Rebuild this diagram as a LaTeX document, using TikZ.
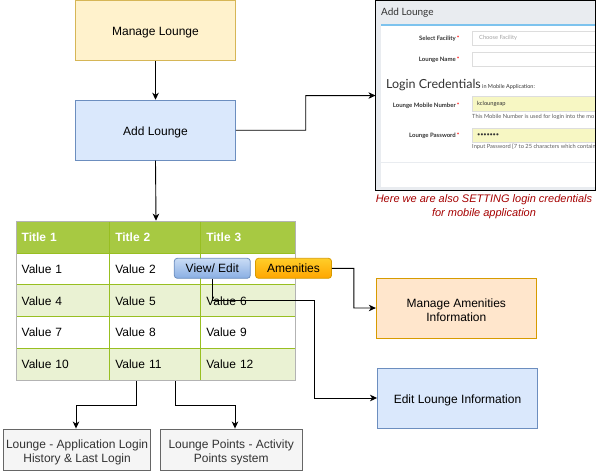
\documentclass[tikz,border=0pt]{standalone}
\usepackage{fontspec}
\setmainfont{Liberation Sans}
\newfontfamily\ui{Lato}
\usetikzlibrary{arrows.meta,calc}
\definecolor{yfill}{HTML}{FFF2CC}
\definecolor{ystroke}{HTML}{D6B656}
\definecolor{bfill}{HTML}{DAE8FC}
\definecolor{bstroke}{HTML}{6C8EBF}
\definecolor{ofill}{HTML}{FFE6CC}
\definecolor{ostroke}{HTML}{D79B00}
\definecolor{gfill}{HTML}{F5F5F5}
\definecolor{gstroke}{HTML}{666666}
\definecolor{gtext}{HTML}{333333}
\definecolor{thead}{HTML}{A7C942}
\definecolor{tgrid}{HTML}{98BF21}
\definecolor{talt}{HTML}{EAF2D3}
\definecolor{tborder}{HTML}{B3B3B3}
\definecolor{capred}{HTML}{A50000}
\definecolor{shotbg}{HTML}{E9ECF0}
\definecolor{shotblue}{HTML}{7DC3EE}
\definecolor{inborder}{HTML}{DDDDDD}
\definecolor{inyellow}{HTML}{F7F7C3}
\definecolor{shottext}{HTML}{333333}
\definecolor{btnbtop}{HTML}{C9DCF5}
\definecolor{btnbbot}{HTML}{89AEE3}
\definecolor{btnotop}{HTML}{FFCD28}
\definecolor{btnobot}{HTML}{FFA500}
\begin{document}
\begin{tikzpicture}[x=1pt,y=-1pt,
  lab/.style={inner sep=0pt, align=center, yshift=-2pt, font=\fontsize{12}{14}\selectfont},
  box/.style={draw, line width=0.9pt, inner sep=0pt, minimum width=160pt, minimum height=60pt},
  gbox/.style={draw=gstroke, fill=gfill, line width=0.9pt, inner sep=0pt, minimum height=41pt},
  glab/.style={lab, text=gtext, yshift=-1pt},
  cell/.style={draw=tgrid, line width=0.9pt, anchor=north west, inner xsep=5.5pt,
    inner ysep=0pt, minimum height=31.86pt, align=left, font=\fontsize{12}{14}\selectfont},
  head/.style={cell, fill=thead, text=white, font=\fontsize{12}{14}\selectfont\bfseries},
  ca/.style={text width=82.6pt},
  cb/.style={text width=80pt},
  cc/.style={text width=83.7pt},
  alt/.style={fill=talt},
  btn/.style={draw, rounded corners=3pt, line width=0.8pt, minimum width=76pt,
    minimum height=20pt, inner sep=0pt, font=\fontsize{12}{14}\selectfont},
  conn/.style={line width=0.9pt, -{Stealth[length=7pt,width=6.5pt,inset=2pt]}},
  lbl/.style={anchor=east, inner sep=0pt, text=shottext, font=\ui\fontsize{6}{7}\selectfont\bfseries},
  hint/.style={anchor=west, inner sep=0pt, text=shottext!80, font=\ui\fontsize{5.7}{7}\selectfont},
]
\useasboundingbox (0,0) rectangle (607,471);

% main boxes
\node[box, fill=yfill, draw=ystroke, label={[lab]center:Manage Lounge}] (ml) at (155.5,30.2) {};
\node[box, fill=bfill, draw=bstroke, label={[lab]center:Add Lounge}] (add) at (155.5,130.2) {};
\node[box, fill=ofill, draw=ostroke, label={[lab]center:Manage Amenities\\Information}] (mam) at (456.3,308) {};
\node[box, fill=bfill, draw=bstroke, label={[lab]center:Edit Lounge Information}] (edit) at (457.5,398) {};
\node[gbox, minimum width=147.4pt, label={[glab]center:Lounge - Application Login\\History \& Last Login}] (b1) at (77.1,449.5) {};
\node[gbox, minimum width=142.3pt, label={[glab]center:Lounge Points - Activity\\Points system}] (b2) at (231.2,449.5) {};

% screenshot
\node[fill=shotbg, inner sep=0pt, minimum width=219.5pt, minimum height=189.3pt, anchor=north west] (shot) at (375.5,0.7) {};
\begin{scope}
\clip (shot.north west) rectangle (shot.south east);
\node[anchor=west, inner sep=0pt, text=shottext, font=\ui\fontsize{10}{12}\selectfont] (shothead) at (381,13) {Add Lounge};
\fill[white] (381,25) rectangle (600,186.5);
\draw[shotblue, line width=1.2pt] (381,25) -- (600,25);
\draw[shotbg, line width=0.8pt] (381,162) -- (600,162);
\node[lbl] (l1) at (459.5,38.3) {Select Facility\,\textcolor{red}{*}};
\draw[inborder, fill=white] (471.7,30.7) rectangle (600,45);
\node[hint, text=shottext!45] (p1) at (479,38.3) {Choose Facility};
\node[lbl] (l2) at (459.5,59.7) {Lounge Name\,\textcolor{red}{*}};
\draw[inborder, fill=white] (471.7,51.7) rectangle (600,66);
\node[anchor=base west, inner sep=0pt, text=shottext, font=\ui\fontsize{12.5}{14}\selectfont] (lc) at (386,88) {Login Credentials};
\node[anchor=base west, inner sep=0pt, text=shottext, font=\ui\fontsize{5.5}{6}\selectfont] (lc2) at (lc.base east) {\,in Mobile Application:};
\node[lbl] (l3) at (459.5,105.7) {Lounge Mobile Number\,\textcolor{red}{*}};
\draw[inborder, fill=inyellow] (471.7,96.5) rectangle (600,111.5);
\node[hint, text=shottext] (p3) at (477,104) {kcloungeap};
\node[hint] (h3) at (472,117.3) {This Mobile Number is used for login into the mo};
\node[lbl] (l4) at (459.5,135.7) {Lounge Password\,\textcolor{red}{*}};
\draw[inborder, fill=inyellow] (471.7,128.3) rectangle (600,142.3);
\node[hint, text=shottext] (p4) at (477,135.3) {\textbullet\kern-0.2pt\textbullet\kern-0.2pt\textbullet\kern-0.2pt\textbullet\kern-0.2pt\textbullet\kern-0.2pt\textbullet\kern-0.2pt\textbullet};
\node[hint] (h4) at (472,147.3) {Input Password [7 to 25 characters which contain};
\end{scope}
\draw[black, line width=1.5pt] (shot.north west) rectangle (shot.south east);

\node[align=center, inner sep=0pt, text=capred, font=\fontsize{11}{13.5}\selectfont\itshape] (cap) at (484,206.5) {Here we are also SETTING login credentials\\for mobile application};

% table
\node[head, ca] (h1) at (15.7,220.7) {Title 1};
\node[head, cb] (h2) at (109.3,220.7) {Title 2};
\node[head, cc] (h3) at (200.3,220.7) {Title 3};
\node[cell, ca] (v1) at (15.7,252.56) {Value 1};
\node[cell, cb] (v2) at (109.3,252.56) {Value 2};
\node[cell, cc] (v3) at (200.3,252.56) {};
\node[cell, ca, alt] (v4) at (15.7,284.42) {Value 4};
\node[cell, cb, alt] (v5) at (109.3,284.42) {Value 5};
\node[cell, cc, alt] (v6) at (200.3,284.42) {Value 6};
\node[cell, ca] (v7) at (15.7,316.28) {Value 7};
\node[cell, cb] (v8) at (109.3,316.28) {Value 8};
\node[cell, cc] (v9) at (200.3,316.28) {Value 9};
\node[cell, ca, alt] (v10) at (15.7,348.14) {Value 10};
\node[cell, cb, alt] (v11) at (109.3,348.14) {Value 11};
\node[cell, cc, alt] (v12) at (200.3,348.14) {Value 12};
\node[draw=tborder, line width=1.3pt, inner sep=0pt, minimum width=279.3pt, minimum height=159.3pt, anchor=north west] (tbl) at (15.7,220.7) {};

% buttons
\node[btn, draw=bstroke, top color=btnbtop, bottom color=btnbbot] (view) at (212.3,268.3) {View/ Edit};
\node[btn, draw=ostroke, top color=btnotop, bottom color=btnobot] (amen) at (293.5,268.3) {Amenities};

% connectors
\draw[conn] (ml.south) -- (add.north);
\draw[conn] (add.south) -- (tbl.north);
\draw[conn] (add.east) -- ($(add.east)!0.5!(add.east -| shot.west)$) |- (shot.west);
\draw[conn] (amen.east) -- ($(amen.east)!0.5!(amen.east -| mam.west)$) |- (mam.west);
\draw[conn] (view.south) |- ($(view.south)+(101.7,21.7)$) |- (edit.west);
\draw[conn] ($(tbl.south west)+(120.3,0)$) -- ++(0,24) -| ($(b1.north)+(-1.1,0)$);
\draw[conn] ($(tbl.south west)+(159.3,0)$) -- ++(0,24) -| ($(b2.north)+(3.8,0)$);
\end{tikzpicture}
\end{document}
